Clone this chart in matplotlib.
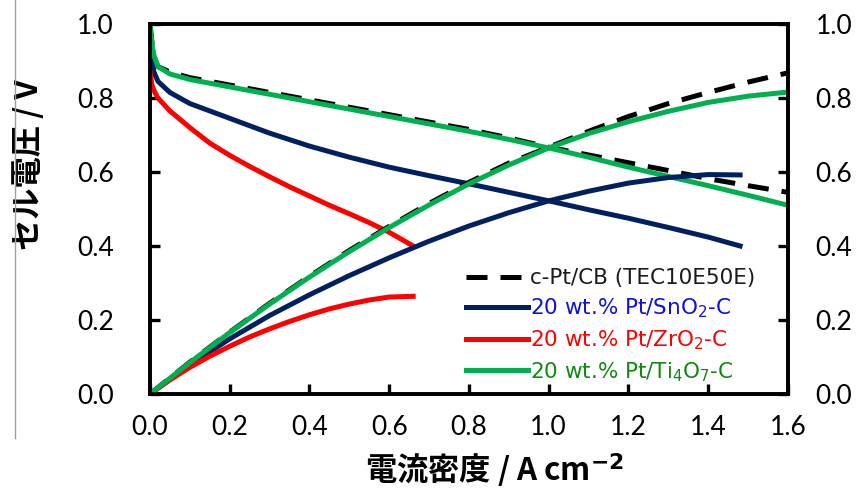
import matplotlib.pyplot as plt
from matplotlib.lines import Line2D

# 電流密度 / A cm-2 と セル電圧 / V、出力密度（右軸）
i_cb = [0, 0.005, 0.01, 0.02, 0.05, 0.1, 0.2, 0.3, 0.4, 0.5, 0.6, 0.7, 0.8, 0.9, 1.0, 1.1, 1.2, 1.3, 1.4, 1.5, 1.6]
v_cb = [1.0, 0.95, 0.91, 0.885, 0.87, 0.855, 0.835, 0.815, 0.795, 0.775, 0.755, 0.735, 0.715, 0.692, 0.667,
        0.646, 0.625, 0.604, 0.582, 0.563, 0.545]
v_ti = [1.0, 0.945, 0.915, 0.885, 0.865, 0.85, 0.83, 0.81, 0.79, 0.77, 0.75, 0.73, 0.71, 0.688, 0.665,
        0.64, 0.613, 0.588, 0.563, 0.537, 0.51]

i_p = [0, 0.1, 0.2, 0.3, 0.4, 0.5, 0.6, 0.7, 0.8, 0.9, 1.0, 1.1, 1.2, 1.3, 1.4, 1.5, 1.6]
p_cb = [0, 0.086, 0.167, 0.245, 0.318, 0.388, 0.453, 0.515, 0.572, 0.624, 0.667, 0.71, 0.75, 0.785, 0.815, 0.843, 0.868]
p_ti = [0, 0.085, 0.166, 0.243, 0.316, 0.385, 0.45, 0.511, 0.568, 0.619, 0.665, 0.704, 0.736, 0.764, 0.788, 0.805, 0.816]

i_sn = [0, 0.005, 0.01, 0.02, 0.05, 0.1, 0.2, 0.3, 0.4, 0.5, 0.6, 0.7, 0.8, 0.9, 1.0, 1.1, 1.2, 1.3, 1.4, 1.48]
v_sn = [0.96, 0.9, 0.87, 0.845, 0.815, 0.785, 0.745, 0.705, 0.67, 0.64, 0.613, 0.59, 0.568, 0.545, 0.522,
        0.498, 0.475, 0.45, 0.424, 0.40]
i_sn_p = [0, 0.1, 0.2, 0.3, 0.4, 0.5, 0.6, 0.7, 0.8, 0.9, 1.0, 1.1, 1.2, 1.3, 1.4, 1.48]
p_sn = [0, 0.079, 0.149, 0.212, 0.268, 0.32, 0.368, 0.413, 0.454, 0.49, 0.522, 0.548, 0.57, 0.585, 0.593, 0.592]

i_zr = [0, 0.005, 0.01, 0.02, 0.05, 0.1, 0.15, 0.2, 0.25, 0.3, 0.35, 0.4, 0.45, 0.5, 0.55, 0.6, 0.66]
v_zr = [0.87, 0.835, 0.82, 0.8, 0.765, 0.72, 0.678, 0.645, 0.615, 0.587, 0.56, 0.535, 0.51, 0.487, 0.463, 0.437, 0.40]
i_zr_p = [0, 0.05, 0.1, 0.15, 0.2, 0.25, 0.3, 0.35, 0.4, 0.45, 0.5, 0.55, 0.6, 0.66]
p_zr = [0, 0.038, 0.072, 0.102, 0.129, 0.154, 0.176, 0.196, 0.214, 0.23, 0.243, 0.254, 0.262, 0.264]

ticks = [0.0, 0.2, 0.4, 0.6, 0.8, 1.0]
xticks = [0.0, 0.2, 0.4, 0.6, 0.8, 1.0, 1.2, 1.4, 1.6]

labels = ["c-Pt/CB (TEC10E50E)", "20 wt.% Pt/SnO$_2$-C", "20 wt.% Pt/ZrO$_2$-C", "20 wt.% Pt/Ti$_4$O$_7$-C"]
line_colors = ["black", "#002060", "#ff0000", "#00b050"]
text_colors = ["#1a1a1a", "#1010e0", "#ff0000", "#108a10"]

plt.rcParams["font.family"] = ["Lato", "DejaVu Sans"]

fig = plt.figure(figsize=(8.59, 4.90), dpi=100)
ax = fig.add_axes([0.1746, 0.196, 0.7427, 0.755])
ax2 = ax.twinx()

lw = 3.6
dash = (4.2, 2.6)
ax.plot(i_cb, v_cb, color=line_colors[0], lw=lw, dashes=dash)
ax2.plot(i_p, p_cb, color=line_colors[0], lw=lw, dashes=dash)
ax.plot(i_sn, v_sn, color=line_colors[1], lw=lw)
ax2.plot(i_sn_p, p_sn, color=line_colors[1], lw=lw)
ax.plot(i_zr, v_zr, color=line_colors[2], lw=lw)
ax2.plot(i_zr_p, p_zr, color=line_colors[2], lw=lw)
ax.plot(i_cb, v_ti, color=line_colors[3], lw=lw)
ax2.plot(i_p, p_ti, color=line_colors[3], lw=lw)

for a in (ax, ax2):
    a.set_xlim(0, 1.6)
    a.set_ylim(0, 1.0)
    a.set_yticks(ticks)
    a.set_yticklabels([f"{t:.1f}" for t in ticks])
    for s in a.spines.values():
        s.set_linewidth(2.6)

ax.set_xticks(xticks)
ax.set_xticklabels([f"{t:.1f}" for t in xticks])
ax.tick_params(axis="x", direction="in", length=7, width=2.4, pad=15, labelsize=19)
ax.tick_params(axis="y", direction="in", length=7, width=2.4, pad=26, labelsize=19)
ax2.tick_params(axis="y", direction="in", length=7, width=2.4, pad=20, labelsize=19)

cjk = ["Noto Sans CJK JP", "DejaVu Sans"]
ax.set_ylabel("セル電圧 / V", family=cjk, fontweight="bold", fontsize=22.5)
ax.yaxis.set_label_coords(-0.165, 0.62)
ax.set_xlabel(r"電流密度 / A cm$^{\mathbf{-2}}$", family=cjk, fontweight="bold", fontsize=22.5)
ax.xaxis.set_label_coords(0.54, -0.155)

handles = [Line2D([], [], color=c, lw=lw) for c in line_colors]
handles[0].set_dashes(dash)
leg = ax2.legend(handles, labels, loc="upper left", bbox_to_anchor=(0.495, 0.34), frameon=False,
                 prop={"family": "DejaVu Sans", "size": 15.5}, handlelength=2.9, handletextpad=0.1,
                 labelspacing=0.38, borderaxespad=0, borderpad=0)
for t, c in zip(leg.get_texts(), text_colors):
    t.set_color(c)

# 左端の細いグレー線
fig.add_artist(Line2D([15 / 859, 15 / 859], [1 - 438 / 490, 1.0], color="#a0a0a0", lw=1))

fig.savefig("out.png", dpi=100)
plt.close(fig)
